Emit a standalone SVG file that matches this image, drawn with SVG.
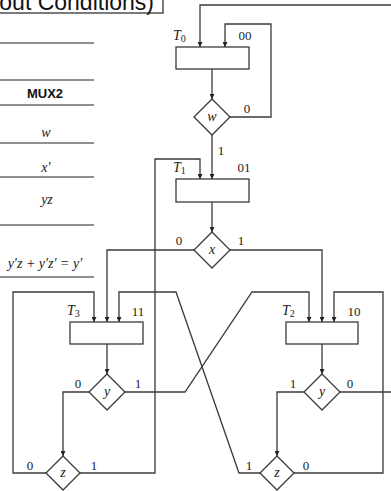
<svg xmlns="http://www.w3.org/2000/svg" width="391" height="491" viewBox="0 0 391 491">
<style>
.ln{fill:none;stroke:#3a3a3a;stroke-width:1.3}
.tl{stroke:#222;stroke-width:1}
.bx{fill:#fff;stroke:#3a3a3a;stroke-width:1.3}
.m{font-family:"Liberation Serif","DejaVu Serif",serif;font-size:13px;fill:#222}
.i{font-family:"Liberation Serif","DejaVu Serif",serif;font-style:italic;font-size:14px;fill:#222}
.s{font-family:"Liberation Serif","DejaVu Serif",serif;font-size:10px;fill:#222}
</style>
<defs>
<marker id="ar" viewBox="0 0 8 8" refX="8" refY="4" markerWidth="5" markerHeight="5" orient="auto" markerUnits="userSpaceOnUse">
<path d="M0,0 L8,4 L0,8 Z" fill="#222"/>
</marker>
</defs>
<rect width="391" height="491" fill="#fff"/>
<g id="title">
<rect x="-5" y="-30" width="168" height="43" fill="none" stroke="#222" stroke-width="1.2"/>
<text x="154" y="10" text-anchor="end" font-family="'Liberation Sans',Arial,sans-serif" font-size="23" fill="#111">out Conditions)</text>
</g>
<g id="table">
<line class="tl" x1="0" y1="43" x2="94" y2="43"/>
<line class="tl" x1="0" y1="80" x2="94" y2="80"/>
<line class="tl" x1="0" y1="105" x2="94" y2="105" stroke-width="1.6"/>
<line class="tl" x1="0" y1="143" x2="94" y2="143"/>
<line class="tl" x1="0" y1="177" x2="94" y2="177" stroke-width="1.5" stroke="#555"/>
<line class="tl" x1="0" y1="225" x2="94" y2="225"/>
<line class="tl" x1="0" y1="277" x2="94" y2="277" stroke-width="1.4"/>
<text x="45" y="98" text-anchor="middle" font-family="'Liberation Sans',Arial,sans-serif" font-weight="bold" font-size="13" fill="#111">MUX2</text>
<text class="i" x="46" y="137" text-anchor="middle">w</text>
<text class="i" x="46" y="172" text-anchor="middle">x′</text>
<text class="i" x="47" y="204" text-anchor="middle">yz</text>
<text class="i" x="45" y="268" text-anchor="middle" font-size="15">y′z + y′z′ = y′</text>
</g>
<g id="connectors">
<polyline class="ln" points="391,5 200,5 200,47" marker-end="url(#ar)"/>
<polyline class="ln" points="230,117 271,117 271,24 225,24 225,47" marker-end="url(#ar)"/>
<polyline class="ln" points="212,69 212,99" marker-end="url(#ar)"/>
<polyline class="ln" points="212,135 212,179" marker-end="url(#ar)"/>
<polyline class="ln" points="212,202 212,232" marker-end="url(#ar)"/>
<polyline class="ln" points="194,250 107,250 107,322" marker-end="url(#ar)"/>
<polyline class="ln" points="230,250 322,250 322,322" marker-end="url(#ar)"/>
<polyline class="ln" points="107,344 107,374" marker-end="url(#ar)"/>
<polyline class="ln" points="89,392 63,392 63,456" marker-end="url(#ar)"/>
<polyline class="ln" points="125,392 185,392 252,292 309,292 309,322" marker-end="url(#ar)"/>
<polyline class="ln" points="46,473 13,473 13,292 94,292 94,322" marker-end="url(#ar)"/>
<polyline class="ln" points="80,473 155,473 155,159 200,159 200,179" marker-end="url(#ar)"/>
<polyline class="ln" points="322,344 322,374" marker-end="url(#ar)"/>
<polyline class="ln" points="304,392 277,392 277,456" marker-end="url(#ar)"/>
<polyline class="ln" points="340,392 391,392"/>
<polyline class="ln" points="260,473 239,473 176,292 119,292 119,322" marker-end="url(#ar)"/>
<polyline class="ln" points="294,473 383,473 383,292 334,292 334,322" marker-end="url(#ar)"/>
<text class="m" x="247" y="113" text-anchor="middle">0</text>
<text class="m" x="221" y="155" text-anchor="middle">1</text>
<text class="m" x="179" y="245" text-anchor="middle">0</text>
<text class="m" x="241" y="245" text-anchor="middle">1</text>
<text class="m" x="78" y="388" text-anchor="middle">0</text>
<text class="m" x="138" y="388" text-anchor="middle">1</text>
<text class="m" x="30" y="470" text-anchor="middle">0</text>
<text class="m" x="94" y="470" text-anchor="middle">1</text>
<text class="m" x="293" y="388" text-anchor="middle">1</text>
<text class="m" x="350" y="388" text-anchor="middle">0</text>
<text class="m" x="249" y="470" text-anchor="middle">1</text>
<text class="m" x="306" y="470" text-anchor="middle">0</text>
</g>
<g id="T0">
<rect class="bx" x="176" y="47" width="73" height="22"/>
<text class="i" x="173" y="40">T<tspan class="s" font-style="normal" dy="2">0</tspan></text>
<text class="m" x="245" y="40" text-anchor="middle">00</text>
</g>
<g id="w">
<polygon class="bx" points="212,99 230,117 212,135 194,117"/>
<text class="i" x="212" y="121" text-anchor="middle" font-size="13">w</text>
</g>
<g id="T1">
<rect class="bx" x="176" y="179" width="73" height="23"/>
<text class="i" x="173" y="172">T<tspan class="s" font-style="normal" dy="2">1</tspan></text>
<text class="m" x="244" y="172" text-anchor="middle">01</text>
</g>
<g id="x">
<polygon class="bx" points="212,232 230,250 212,268 194,250"/>
<text class="i" x="212" y="254" text-anchor="middle" font-size="13">x</text>
</g>
<g id="T3">
<rect class="bx" x="70" y="322" width="73" height="22"/>
<text class="i" x="67" y="315">T<tspan class="s" font-style="normal" dy="2">3</tspan></text>
<text class="m" x="138" y="316" text-anchor="middle">11</text>
</g>
<g id="y3">
<polygon class="bx" points="107,374 125,392 107,410 89,392"/>
<text class="i" x="107" y="396" text-anchor="middle" font-size="13">y</text>
</g>
<g id="z3">
<polygon class="bx" points="63,456 80,473 63,490 46,473"/>
<text class="i" x="63" y="477" text-anchor="middle" font-size="13">z</text>
</g>
<g id="T2">
<rect class="bx" x="286" y="322" width="72" height="22"/>
<text class="i" x="282" y="315">T<tspan class="s" font-style="normal" dy="2">2</tspan></text>
<text class="m" x="354" y="316" text-anchor="middle">10</text>
</g>
<g id="y2">
<polygon class="bx" points="322,374 340,392 322,410 304,392"/>
<text class="i" x="322" y="396" text-anchor="middle" font-size="13">y</text>
</g>
<g id="z2">
<polygon class="bx" points="277,456 294,473 277,490 260,473"/>
<text class="i" x="277" y="477" text-anchor="middle" font-size="13">z</text>
</g>
</svg>
